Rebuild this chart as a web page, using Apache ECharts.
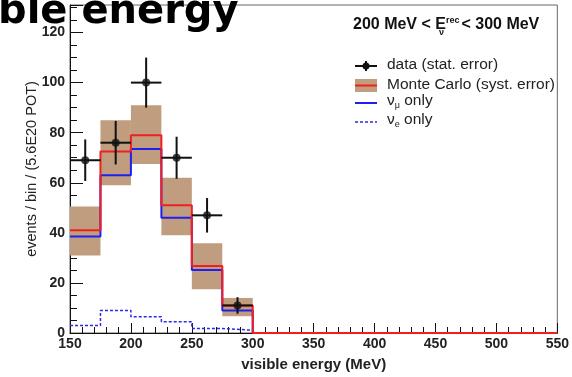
<!DOCTYPE html>
<html>
<head>
<meta charset="utf-8">
<script src="https://cdn.jsdelivr.net/npm/echarts@6/dist/echarts.min.js"></script>
<style>
  html, body { margin: 0; padding: 0; background: #fff; }
  #chart { width: 572px; height: 377px; }
</style>
</head>
<body>
<div id="chart"></div>
<script>
// 25 MeV bins, lower edges
var binLow = [150, 175, 200, 225, 250, 275, 300, 325, 350, 375, 400, 425, 450, 475, 500, 525]
var binWidth = 25
var mcValues = [41, 72.5, 79, 51, 26.8, 11, 0, 0, 0, 0, 0, 0, 0, 0, 0, 0]
var mcErrLow = [31, 59, 67.5, 39, 17.5, 6.7, 0, 0, 0, 0, 0, 0, 0, 0, 0, 0]
var mcErrHigh = [50.5, 85, 91, 62, 35.8, 14, 0, 0, 0, 0, 0, 0, 0, 0, 0, 0]
var numuValues = [38.5, 63, 73.5, 46, 25.2, 9, 0, 0, 0, 0, 0, 0, 0, 0, 0, 0]
var nueValues = [3, 9, 6.5, 4.5, 1.8, 1.1, 0, 0, 0, 0, 0, 0, 0, 0, 0, 0]
var dataValues = [69, 76, 100, 70, 47, 11]
var dataErr = [8.3, 8.7, 10, 8.4, 6.9, 3.3]

var labelFont = 'Liberation Sans, Arial, sans-serif'

function stepData (vals) {
  var d = binLow.map(function (x, i) { return [x, vals[i]] })
  d.push([binLow[binLow.length - 1] + binWidth, vals[vals.length - 1]])
  return d
}

var bandData = []
for (var i = 0; i < binLow.length; i++) {
  if (mcErrHigh[i] > mcErrLow[i]) {
    bandData.push([binLow[i], binLow[i] + binWidth, mcErrLow[i], mcErrHigh[i]])
  }
}
var pointData = dataValues.map(function (v, i) {
  return [binLow[i] + binWidth / 2, v, dataErr[i]]
})

var subStyle = { fontSize: 9, fontFamily: labelFont, fill: '#222', verticalAlign: 'bottom', padding: [9, 0, 0, 0] }

var chart = echarts.init(document.getElementById('chart'))
chart.setOption({
  animation: false,
  grid: {
    left: 70, right: 14, top: 5, bottom: 42,
    show: true, borderColor: '#666', borderWidth: 1
  },
  xAxis: {
    type: 'value', min: 150, max: 550, interval: 50,
    axisLine: { show: true, onZero: false, lineStyle: { color: '#111', width: 1 } },
    axisTick: { inside: true, length: 10, lineStyle: { color: '#111' } },
    minorTick: { show: true, splitNumber: 5, length: 6, lineStyle: { color: '#111' } },
    splitLine: { show: false },
    axisLabel: { color: '#222', fontSize: 14, fontWeight: 'bold', fontFamily: labelFont, margin: 4 },
    name: 'visible energy (MeV)',
    nameLocation: 'middle', nameGap: 24, nameMoveOverlap: false,
    nameTextStyle: { color: '#222', fontSize: 15, fontWeight: 'bold', fontFamily: labelFont }
  },
  yAxis: [{
    type: 'value', min: 0, max: 131, interval: 5,
    axisLine: { show: true, lineStyle: { color: '#111', width: 1 } },
    axisTick: { inside: true, length: 7, lineStyle: { color: '#111' } },
    splitLine: { show: false },
    axisLabel: {
      interval: 0, color: '#222', fontSize: 14, fontWeight: 'bold', fontFamily: labelFont, margin: 5,
      formatter: function (v) { return v % 20 === 0 ? String(v) : '' }
    },
    name: 'events / bin / (5.6E20 POT)',
    nameLocation: 'middle', nameGap: 31, nameMoveOverlap: false,
    nameTextStyle: { color: '#222', fontSize: 14.5, fontFamily: labelFont }
  }, {
    type: 'value', min: 0, max: 131, interval: 20, position: 'left',
    axisLine: { show: false },
    axisTick: { show: true, inside: true, length: 13, lineStyle: { color: '#111' } },
    axisLabel: { show: false },
    splitLine: { show: false }
  }],
  series: [
    {
      name: 'Monte Carlo band',
      type: 'custom',
      data: bandData,
      clip: true,
      z: 1,
      renderItem: function (params, api) {
        var p0 = api.coord([api.value(0), api.value(3)])
        var p1 = api.coord([api.value(1), api.value(2)])
        return {
          type: 'rect',
          shape: { x: p0[0], y: p0[1], width: p1[0] - p0[0], height: p1[1] - p0[1] },
          style: { fill: '#bf9d7e' }
        }
      }
    },
    {
      name: 'nue only',
      type: 'line', step: 'end', symbol: 'none', z: 2,
      data: stepData(nueValues),
      lineStyle: { color: '#2a2ae8', width: 1.5, type: [3, 2] }
    },
    {
      name: 'numu only',
      type: 'line', step: 'end', symbol: 'none', z: 3,
      data: stepData(numuValues),
      lineStyle: { color: '#2020f0', width: 2 }
    },
    {
      name: 'Monte Carlo',
      type: 'line', step: 'end', symbol: 'none', z: 4,
      data: stepData(mcValues),
      lineStyle: { color: '#f02020', width: 2 }
    },
    {
      name: 'data error',
      type: 'custom', z: 5,
      data: pointData,
      renderItem: function (params, api) {
        var x = api.value(0), v = api.value(1), e = api.value(2)
        var l = api.coord([x - binWidth / 2, v])
        var r = api.coord([x + binWidth / 2, v])
        var t = api.coord([x, v + e])
        var b = api.coord([x, v - e])
        var s = { stroke: '#111', lineWidth: 2 }
        return {
          type: 'group',
          children: [
            { type: 'line', shape: { x1: l[0], y1: l[1], x2: r[0], y2: r[1] }, style: s },
            { type: 'line', shape: { x1: t[0], y1: t[1], x2: b[0], y2: b[1] }, style: s }
          ]
        }
      }
    },
    {
      name: 'data',
      type: 'scatter', z: 6,
      symbol: 'circle', symbolSize: 8,
      data: pointData.map(function (p) { return [p[0], p[1]] }),
      itemStyle: { color: '#111' }
    }
  ],
  graphic: [
    {
      type: 'text', left: -2, top: -7, z: 100,
      style: {
        text: 'ble energy', fill: '#000',
        font: 'bold 40px "DejaVu Sans", sans-serif',
        textShadowColor: '#9a9a9a', textShadowOffsetX: 3, textShadowOffsetY: 3, textShadowBlur: 0
      }
    },
    {
      type: 'text', left: 353, top: 16, z: 100,
      style: {
        text: '200 MeV < E{sup|rec}{gap| }< 300 MeV',
        font: 'bold 16px ' + labelFont, fill: '#111',
        rich: {
          sup: { fontSize: 9, fontWeight: 'bold', fontFamily: labelFont, fill: '#111', verticalAlign: 'top', padding: [0, 0, 9, 0] },
          gap: { fontSize: 16, width: 2 }
        }
      }
    },
    {
      type: 'text', left: 439, top: 28, z: 100,
      style: { text: 'ν', font: 'bold 9px ' + labelFont, fill: '#111' }
    },
    // legend
    { type: 'line', shape: { x1: 355, y1: 66, x2: 377, y2: 66 }, style: { stroke: '#111', lineWidth: 2 } },
    { type: 'line', shape: { x1: 366, y1: 61, x2: 366, y2: 71 }, style: { stroke: '#111', lineWidth: 2 } },
    { type: 'circle', shape: { cx: 366, cy: 66, r: 3.5 }, style: { fill: '#111' } },
    { type: 'text', left: 387, top: 57, style: { text: 'data (stat. error)', font: '15.5px ' + labelFont, fill: '#222' } },
    { type: 'rect', shape: { x: 355, y: 79, width: 22, height: 13 }, style: { fill: '#bf9d7e' } },
    { type: 'line', shape: { x1: 355, y1: 85.5, x2: 377, y2: 85.5 }, style: { stroke: '#f02020', lineWidth: 2 } },
    { type: 'text', left: 387, top: 77, style: { text: 'Monte Carlo (syst. error)', font: '15.5px ' + labelFont, fill: '#222' } },
    { type: 'line', shape: { x1: 355, y1: 103, x2: 377, y2: 103 }, style: { stroke: '#2020f0', lineWidth: 2 } },
    {
      type: 'text', left: 387, top: 93,
      style: { text: 'ν{sub|μ} only', font: '15.5px ' + labelFont, fill: '#222', rich: { sub: subStyle } }
    },
    { type: 'line', shape: { x1: 355, y1: 122, x2: 377, y2: 122 }, style: { stroke: '#2a2ae8', lineWidth: 1.5, lineDash: [3, 2] } },
    {
      type: 'text', left: 387, top: 112,
      style: { text: 'ν{sub|e} only', font: '15.5px ' + labelFont, fill: '#222', rich: { sub: subStyle } }
    }
  ]
})
</script>
</body>
</html>
